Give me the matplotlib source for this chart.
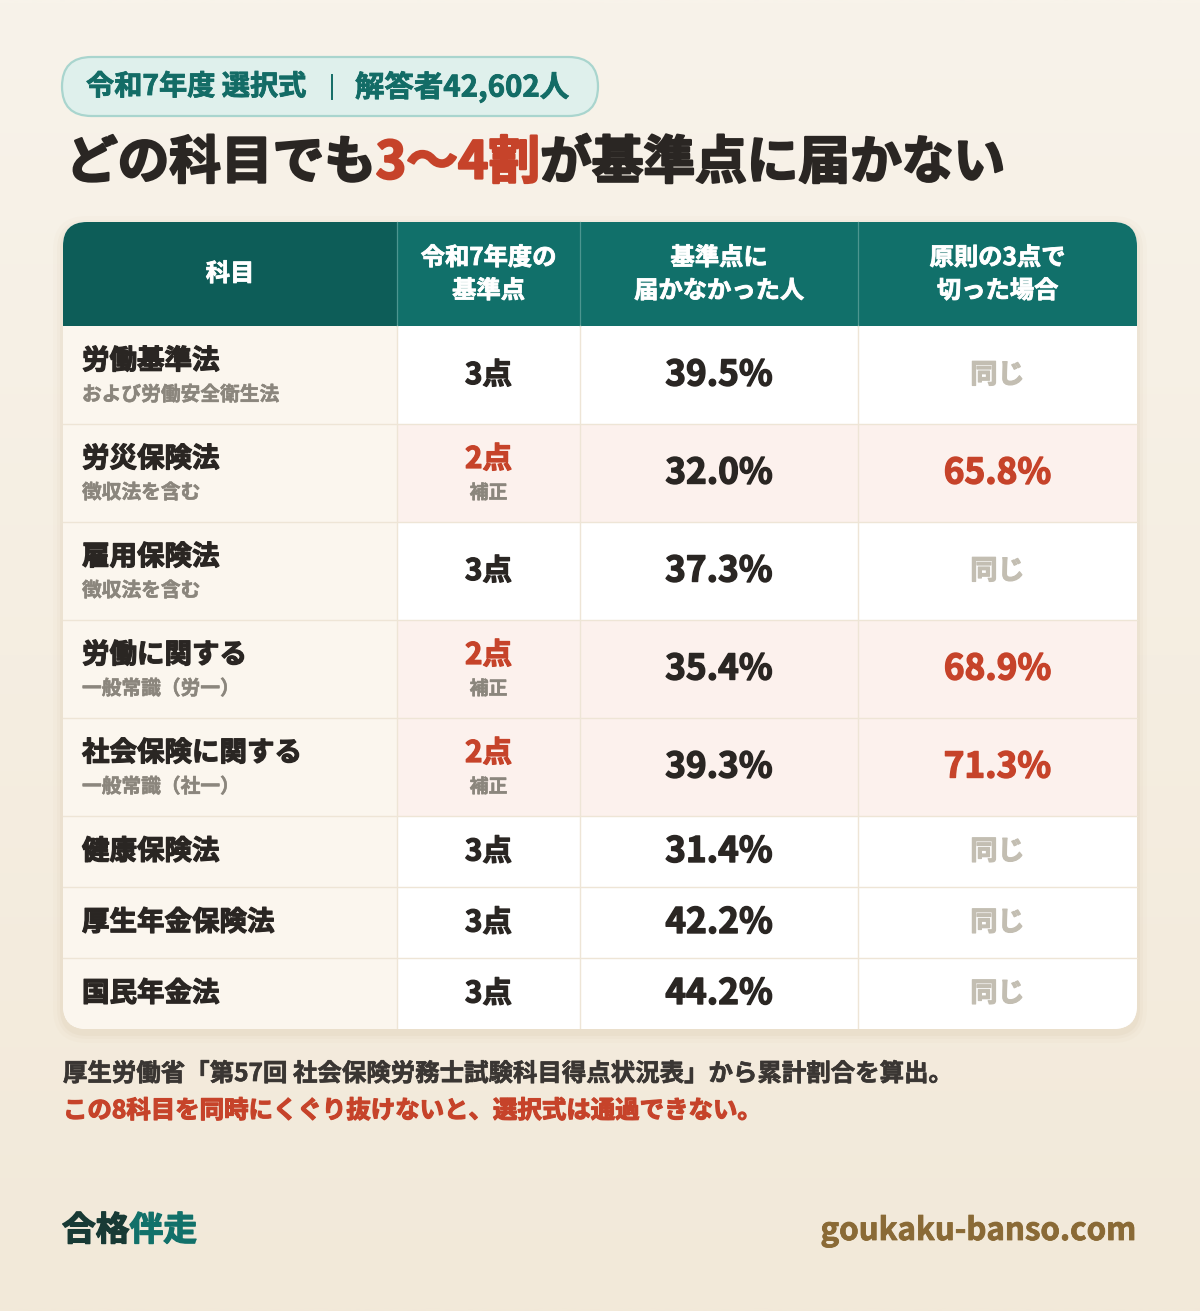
import numpy as np
import matplotlib
matplotlib.use('Agg')
import matplotlib.pyplot as plt
import matplotlib.colors as mcolors
import matplotlib.patheffects as pe
from matplotlib.patches import FancyBboxPatch, Rectangle

JP = ['Noto Sans CJK JP', 'DejaVu Sans']
plt.rcParams['font.family'] = JP

# ---------------- data ----------------
badge_left = '令和7年度 選択式'
badge_right = '解答者42,602人'
title_parts = ['どの科目でも', '3〜4割', 'が基準点に届かない']
headers = ['科目', '令和7年度の\n基準点', '基準点に\n届かなかった人', '原則の3点で\n切った場合']
subjects = ['労働基準法', '労災保険法', '雇用保険法', '労働に関する',
            '社会保険に関する', '健康保険法', '厚生年金保険法', '国民年金法']
subnotes = ['および労働安全衛生法', '徴収法を含む', '徴収法を含む', '一般常識（労一）',
            '一般常識（社一）', '', '', '']
base_points = [3, 2, 3, 2, 2, 3, 3, 3]
adjusted = [False, True, False, True, True, False, False, False]
fail_rate = [39.5, 32.0, 37.3, 35.4, 39.3, 31.4, 42.2, 44.2]
fail_rate_at3 = [None, 65.8, None, 68.9, 71.3, None, None, None]
note_line1 = '厚生労働省「第57回 社会保険労務士試験科目得点状況表」から累計割合を算出。'
note_line2 = 'この8科目を同時にくぐり抜けないと、選択式は通過できない。'
logo_a, logo_b = '合格', '伴走'
site = 'goukaku-banso.com'

# ---------------- style ----------------
DARK = '#2a2623'
RED = '#c6432a'
TEAL = '#11706a'
TEAL_D = '#0d5d58'
GRAY = '#8b867d'
LGRAY = '#c3beb2'
CREAM = '#fbf6ee'
PINK = '#fcf1ed'
LINE = '#eee5d6'

W, H = 1200, 1311
fig = plt.figure(figsize=(12, 13.11), dpi=100)
ax = fig.add_axes([0, 0, 1, 1])
ax.set_xlim(0, W)
ax.set_ylim(H, 0)
ax.axis('off')

# background gradient
g = np.linspace(0, 1, 256)
c0 = np.array(mcolors.to_rgb('#f8f3ea'))
c1 = np.array(mcolors.to_rgb('#f2e9d9'))
img = c0[None, None, :] + (c1 - c0)[None, None, :] * g[:, None, None]
ax.imshow(img, extent=(0, W, H, 0), aspect='auto', zorder=0, interpolation='bilinear')


def T(x, y, s, size, color, weight='bold', ha='left', va='center', z=10, stroke=0.0, **kw):
    t = ax.text(x, y, s, fontsize=size, color=color, fontweight=weight,
                ha=ha, va=va, zorder=z, family=JP, **kw)
    if stroke > 0:
        t.set_path_effects([pe.withStroke(linewidth=stroke, foreground=color)])
    return t


# ---------------- badge ----------------
pill = FancyBboxPatch((62, 57), 536, 59, boxstyle='round,pad=0,rounding_size=29.5',
                      fc='#dff0ec', ec='#a9d5ce', lw=1.6, zorder=2)
ax.add_patch(pill)
T(86, 87, badge_left, 20.3, '#136c66', stroke=0.6)
ax.plot([332, 332], [75, 99], color='#136c66', lw=1.4, zorder=3)
T(355, 87, badge_right, 21.2, '#136c66', stroke=0.6)

# ---------------- title ----------------
renderer = fig.canvas.get_renderer()
x = 66
for s, c in zip(title_parts, [DARK, RED, DARK]):
    t = T(x, 163, s, 37.2, c, stroke=1.6)
    bb = t.get_window_extent(renderer)
    x += bb.width

# ---------------- table ----------------
col_x = [63, 397, 580, 858, 1137]
ty0 = 222
header_h = 104
row_h = [98 if n else 71 for n in subnotes]
row_top = [ty0 + header_h + sum(row_h[:i]) for i in range(len(row_h))]
ty1 = row_top[-1] + row_h[-1]
tx0, tx1 = col_x[0], col_x[-1]

# soft shadow
for grow, a in [(10, 0.025), (6, 0.035), (3, 0.05)]:
    ax.add_patch(FancyBboxPatch((tx0 - grow, ty0 - grow + 4), tx1 - tx0 + 2 * grow,
                                ty1 - ty0 + 2 * grow,
                                boxstyle=f'round,pad=0,rounding_size={24 + grow}',
                                fc='#a58a5c', ec='none', alpha=a, zorder=3))

clip = FancyBboxPatch((tx0, ty0), tx1 - tx0, ty1 - ty0,
                      boxstyle='round,pad=0,rounding_size=24', fc='white', ec='none', zorder=4)
ax.add_patch(clip)


def cell(x0, y0, w, h, fc):
    r = Rectangle((x0, y0), w, h, fc=fc, ec='none', zorder=5)
    ax.add_patch(r)
    r.set_clip_path(clip)


# header
for j in range(4):
    cell(col_x[j], ty0, col_x[j + 1] - col_x[j], header_h, TEAL_D if j == 0 else TEAL)
    cx = (col_x[j] + col_x[j + 1]) / 2
    lines = headers[j].split('\n')
    if len(lines) == 1:
        T(cx, ty0 + header_h / 2, lines[0], 17.5, 'white', ha='center', stroke=0.6)
    else:
        T(cx, ty0 + 36, lines[0], 17.5, 'white', ha='center', stroke=0.6)
        T(cx, ty0 + 69, lines[1], 17.5, 'white', ha='center', stroke=0.6)
for j in range(1, 4):
    ax.plot([col_x[j], col_x[j]], [ty0, ty0 + header_h], color='#4d9690', lw=0.9, zorder=6)

# body
for i in range(len(subjects)):
    y0, h = row_top[i], row_h[i]
    yc = y0 + h / 2
    body_fc = PINK if adjusted[i] else 'white'
    cell(col_x[0], y0, col_x[1] - col_x[0], h, CREAM)
    for j in range(1, 4):
        cell(col_x[j], y0, col_x[j + 1] - col_x[j], h, body_fc)

    # subject
    if subnotes[i]:
        T(82, y0 + 35, subjects[i], 19.8, DARK, stroke=0.9)
        T(82, y0 + 69, subnotes[i], 14.2, GRAY, stroke=0.4)
    else:
        T(82, yc, subjects[i], 19.8, DARK, stroke=0.9)

    # base point
    c1x = (col_x[1] + col_x[2]) / 2
    if adjusted[i]:
        T(c1x, y0 + 35, f'{base_points[i]}点', 21.3, RED, ha='center', stroke=0.9)
        T(c1x, y0 + 69, '補正', 13.6, GRAY, ha='center', stroke=0.4)
    else:
        T(c1x, yc, f'{base_points[i]}点', 21.3, DARK, ha='center', stroke=0.9)

    # fail rate
    c2x = (col_x[2] + col_x[3]) / 2
    T(c2x, yc, f'{fail_rate[i]:.1f}%', 25.3, DARK, ha='center', stroke=1.0)

    # at 3 points
    c3x = (col_x[3] + col_x[4]) / 2
    if fail_rate_at3[i] is None:
        T(c3x, yc, '同じ', 19.5, LGRAY, ha='center', stroke=0.9)
    else:
        T(c3x, yc, f'{fail_rate_at3[i]:.1f}%', 25.3, RED, ha='center', stroke=1.0)

    # separators
    if i > 0:
        ax.plot([tx0, tx1], [y0, y0], color=LINE, lw=1.0, zorder=7)
for j in range(1, 4):
    ln, = ax.plot([col_x[j], col_x[j]], [ty0 + header_h, ty1], color=LINE, lw=1.0, zorder=7)
    ln.set_clip_path(clip)

# ---------------- notes ----------------
T(63, 1074, note_line1, 17.6, '#3a3633', stroke=0.5)
T(63, 1111, note_line2, 17.6, RED, stroke=0.9)

# ---------------- footer ----------------
t = T(62, 1230, logo_a, 24.3, '#183a35', stroke=1.0)
bb = t.get_window_extent(renderer)
T(62 + bb.width, 1230, logo_b, 24.3, '#12716a', stroke=1.0)
T(1137, 1231, site, 22.5, '#8a6a36', ha='right', stroke=0.6)

fig.savefig('out.png', dpi=100)
